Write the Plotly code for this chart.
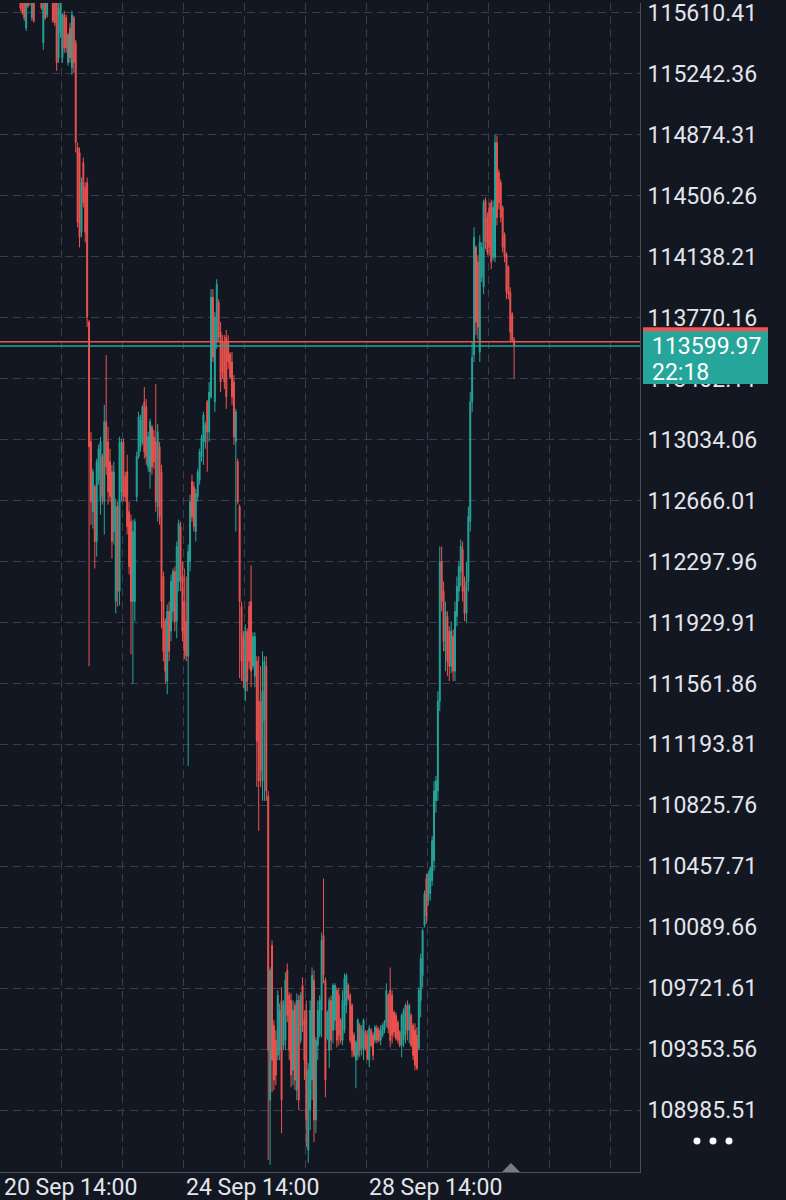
import pandas as pd
import plotly.graph_objects as go

# ---------------- data (hourly BTC candles) ----------------
first_bar = "2025-09-19 12:00"

open_ = [
    115791, 115761, 115731, 115520, 115791, 115779, 115581, 115743, 115719, 115761, 115912, 115761, 115430,
    115731, 115599, 115822, 115701, 115791, 115731, 115671, 115340, 115490, 115340, 115599, 115581, 115310,
    115520, 115280, 115581, 115430, 114798, 114768, 114286, 114707, 114557, 114587, 113744,
    113021, 112599, 112750, 112419, 112792, 112660, 112931, 112660, 113142, 113021, 112901, 112840, 112479,
    112057, 112630, 112118, 112720, 113021, 112810, 112840, 112599, 112539, 112057, 112057, 112690, 112931,
    112991, 113021, 113262, 113232, 112870, 112840, 113111, 113051, 113021, 112630, 112991, 112840, 112208, 111937,
    111576, 111997, 111877, 111997, 112238, 111937, 112178, 112509, 112208, 112057, 111937, 111726, 112298,
    112780, 112750, 112479, 112690, 112792, 112931, 113021, 113021, 113262, 113081, 113292, 113894, 113262,
    113623, 113864, 113683, 113623, 113623, 113653, 113623, 113551, 113503, 113382, 113021, 112901, 112630,
    112027, 111846, 111515, 111877, 112027, 112057, 111666, 111606, 111696, 111455, 111455, 110973, 111335, 111666,
    110883, 109046, 109980, 109498, 109407, 109317, 109347, 109648, 109377, 109407, 109829, 109679, 109648,
    109227, 109618, 109106, 109648, 109407, 109739, 109528, 109588, 108745, 108986, 109167, 109769, 108926,
    109377, 109438, 109588, 110040, 109769, 109419, 109347, 109648, 109468, 109528, 109709, 109679, 109528,
    109407, 109468, 109618, 109739,
    109679, 109618, 109438, 109287, 109317, 109498, 109359, 109347, 109456, 109438, 109287, 109468, 109438,
    109407, 109480, 109468, 109407, 109438, 109468, 109516, 109679, 109709, 109679, 109576, 109558, 109516,
    109456, 109377, 109407, 109438, 109618, 109468, 109558, 109498, 109468, 109438, 109359, 109648, 109799,
    110100, 110383, 110251,
    110293, 110371, 110492, 110853, 110913, 111455, 112298, 112118, 111756, 111967, 111877, 111666, 111846,
    111636, 111967, 112118, 112238, 112371, 112148, 111985, 112178, 112539, 113262, 113545, 114195, 114105,
    113563, 114015, 113955, 114478, 114376, 114436, 114466, 114135, 114135, 114828, 114647, 114587, 114436,
    114273, 114153, 114075, 113924, 113792, 113635,
]

high = [
    115852, 115822, 115761, 115731, 115852, 115822, 115791, 115761, 115912, 115972, 115942, 115791, 115731,
    115761, 115791, 115852, 115882, 115822, 115761, 115701, 115671, 115701, 115611, 115623, 115599, 115490,
    115551, 115623, 115593, 115448, 114828, 114798, 114617, 114737, 114587, 114617, 113756,
    113081, 112858, 112762, 112919, 113003, 113051, 112949, 113244, 113545, 113111, 112979, 112882, 112901,
    112678, 112660, 113051, 113039, 113039, 112840, 112943, 112660, 112581, 112551, 112557, 112961, 113202,
    113184, 113244, 113352, 113280, 113081, 113160, 113123, 113093, 113370, 113129, 113021, 112882, 112238, 111955,
    112039, 112057, 112220, 112256, 112268, 112419, 112551, 112539, 112298, 112256, 112208, 112401, 112702,
    112822, 112780, 112738, 112858, 112979, 113063, 113202, 113142, 113274, 113382, 113943, 113943, 113804,
    114003, 113882, 113744, 113665, 113665, 113696, 113665, 113563, 113563, 113424, 113220, 112919, 112642,
    112057, 111877, 111919, 111895, 112057, 112274, 111871, 111871, 111726, 111726, 111666, 111756, 111726, 111726,
    110913, 109847, 110010, 109528, 109468, 109709, 109630, 109727, 109648, 109817, 109871, 109697, 109691,
    109648, 109636, 109691, 109679, 109697, 109787, 109588, 109648, 109269, 109648, 109847, 109829, 109425,
    109648, 109679, 110058, 110383, 109787, 109588, 109666, 109679, 109751, 109751, 109727, 109721, 109540,
    109709, 109811, 109811, 109751,
    109691, 109630, 109456, 109407, 109540, 109510, 109498, 109540, 109468, 109468, 109498, 109480, 109456,
    109498, 109498, 109486, 109498, 109510, 109528, 109751, 109691, 109847, 109709, 109588, 109576, 109528,
    109468, 109570, 109600, 109630, 109648, 109630, 109570, 109510, 109510, 109486, 109727, 109931, 110082,
    110311, 110413, 110431,
    110455, 110642, 110973, 111003, 111515, 112389, 112389, 112178, 112057, 111997, 111907, 111937, 111889,
    112057, 112208, 112298, 112431, 112419, 112208, 112298, 112630, 113322, 113623, 114316, 114207, 114147,
    114268, 114226, 114484, 114496, 114406, 114466, 114484, 114478, 114876, 114870, 114665, 114605, 114448,
    114286, 114165, 114087, 113954, 113804, 113653,
]

low = [
    115623, 115599, 115563, 115502, 115641, 115653, 115563, 115551, 115701, 115731, 115701, 115629, 115388,
    115569, 115581, 115689, 115683, 115551, 115532, 115261, 115310, 115460, 115310, 115370, 115370, 115292,
    115310, 115237, 115249, 114768, 114316, 114195, 114256, 114436, 114226, 113714, 111666,
    112521, 112497, 112256, 112328, 112762, 112581, 112642, 112461, 112822, 112642, 112660, 112316, 112401,
    111985, 112027, 112033, 112660, 112660, 112660, 112461, 112220, 111738, 111558, 111937, 112660, 112919,
    112961, 113003, 112919, 112882, 112840, 112738, 112822, 112858, 112599, 112539, 112521, 111895, 111696, 111558,
    111497, 111696, 111817, 111937, 111877, 111835, 112118, 112118, 111817, 111708, 111696, 111064, 112238,
    112539, 112479, 112419, 112660, 112762, 112901, 112882, 112979, 112840, 113021, 113280, 113503, 113202,
    113581, 113623, 113322, 113400, 113340, 113220, 113461, 113400, 113244, 113003, 112479, 112642, 111594,
    111576, 111533, 111455, 111515, 111648, 111539, 111648, 111539, 110937, 110672, 110937, 110853, 110853, 110853,
    108685, 108655, 109094, 109106, 109136, 109287, 109287, 108847, 109347, 109347, 109516, 109287, 109124,
    109136, 109106, 109046, 108986, 109389, 109456, 109167, 108763, 108667, 108865, 109046, 108793, 108847,
    109287, 109425, 109425, 109751, 109064, 109407, 109239, 109347, 109389, 109468, 109365, 109377, 109389,
    109377, 109450, 109570, 109648,
    109389, 109305, 109305, 109118, 109287, 109305, 109317, 109287, 109347, 109287, 109245, 109365, 109287,
    109389, 109389, 109395, 109377, 109425, 109450, 109486, 109450, 109365, 109389, 109425, 109407, 109389,
    109365, 109305, 109365, 109389, 109407, 109389, 109365, 109287, 109227, 109227, 109347, 109546, 109727,
    110088, 110112, 110221,
    110251, 110341, 110431, 110781, 110853, 111395, 111997, 111756, 111636, 111606, 111576, 111624, 111576,
    111576, 111907, 112057, 112148, 112057, 111937, 111925, 112118, 112479, 113202, 113503, 113665, 113641,
    113503, 113985, 113912, 114183, 114147, 114147, 114063, 114117, 114105, 114328, 114424, 114346, 114165,
    114105, 113882, 113882, 113623, 113623, 113400,
]

close = [
    115641, 115611, 115581, 115701, 115653, 115671, 115761, 115563, 115882, 115942, 115719, 115641, 115701,
    115581, 115761, 115701, 115852, 115563, 115551, 115310, 115641, 115671, 115599, 115400, 115400, 115478,
    115340, 115599, 115310, 114828, 114346, 114256, 114587, 114466, 114286, 113774, 112991,
    112660, 112840, 112419, 112901, 112979, 113021, 112690, 113142, 112870, 112720, 112690, 112419, 112840,
    112630, 112118, 113021, 113021, 112690, 112690, 112509, 112268, 112057, 112479, 112539, 112931, 113172,
    113154, 113232, 112961, 112931, 113051, 113142, 112870, 112901, 112660, 113081, 112569, 112057, 111756, 111636,
    111997, 111756, 112178, 112238, 111937, 112389, 112527, 112178, 111877, 111756, 111726, 112358, 112660,
    112569, 112509, 112708, 112840, 112961, 113045, 113184, 113123, 113081, 113322, 113894, 113533, 113774,
    113973, 113653, 113382, 113442, 113382, 113292, 113503, 113412, 113292, 113051, 113202, 112660, 112057,
    111696, 111576, 111877, 111576, 111696, 111636, 111846, 111846, 111214, 110973, 111034, 111515, 111696, 110913,
    109347, 109829, 109287, 109167, 109197, 109679, 109588, 109046, 109618, 109769, 109558, 109347, 109197,
    109588, 109167, 109648, 109046, 109679, 109498, 109287, 108926, 109227, 109588, 109799, 108926, 109407,
    109588, 109648, 110010, 109799, 109167, 109576, 109648, 109407, 109739, 109739, 109407, 109438, 109407,
    109648, 109781, 109799, 109660,
    109407, 109347, 109317, 109395, 109528, 109347, 109468, 109528, 109359, 109299, 109480, 109377, 109317,
    109486, 109407, 109407, 109468, 109498, 109522, 109709, 109480, 109407, 109438, 109456, 109419, 109407,
    109377, 109558, 109588, 109618, 109468, 109618, 109377, 109317, 109257, 109239, 109709, 109901, 110070,
    110293, 110160, 110413,
    110443, 110612, 110913, 110973, 111455, 112298, 112057, 111817, 111997, 111696, 111666, 111877, 111636,
    111997, 112148, 112268, 112389, 112118, 111985, 112178, 112569, 113262, 113533, 114256, 113744, 113714,
    114226, 114195, 114466, 114226, 114165, 114195, 114105, 114436, 114828, 114376, 114466, 114376, 114195,
    114135, 113924, 113912, 113683, 113635, 113599.97,
]

price_labels = [
    "115610.41", "115242.36", "114874.31", "114506.26", "114138.21", "113770.16", "113402.11",
    "113034.06", "112666.01", "112297.96", "111929.91", "111561.86", "111193.81", "110825.76",
    "110457.71", "110089.66", "109721.61", "109353.56", "108985.51",
]
date_labels = ["20 Sep 14:00", "24 Sep 14:00", "28 Sep 14:00"]
date_label_times = ["2025-09-20 14:00", "2025-09-24 14:00", "2025-09-28 14:00"]

last_price = 113599.97
last_price_text = "113599.97"
countdown = "22:18"
red_line_price = 113625

# ---------------- layout constants ----------------
W, H = 786, 1200
PW, PH = 640, 1172           # plot area in pixels
TEAL = "#26a69a"
RED = "#ef5350"
BG = "#131722"
GRID = "#3a3e4a"
TXT = "#e3e5ec"
FONT = "Roboto"
PX_PER_HOUR = 1.906
ANCHOR_PX = 70
anchor = pd.Timestamp(date_label_times[0])
Y_TOP, Y_BOT = 115670.6, 108612.1


def xtime(px):
    return anchor + pd.Timedelta(hours=(px - ANCHOR_PX) / PX_PER_HOUR)


def pxx(px):
    return px / PW


def pxy(py):
    return 1 - py / PH


times = pd.date_range(first_bar, periods=len(close), freq="h")
grid_times = [anchor + pd.Timedelta(hours=-4.2 + 32 * k) for k in range(-1, 10)]

fig = go.Figure()
fig.add_trace(go.Candlestick(
    x=times, open=open_, high=high, low=low, close=close,
    increasing=dict(line=dict(color=TEAL, width=1), fillcolor=TEAL),
    decreasing=dict(line=dict(color=RED, width=1), fillcolor=RED),
    whiskerwidth=0, hoverinfo="skip", showlegend=False,
))

shapes = [
    # price lines
    dict(type="line", xref="paper", yref="y", x0=0, x1=1, y0=red_line_price, y1=red_line_price,
         line=dict(color=RED, width=1.5), layer="above"),
    dict(type="line", xref="paper", yref="y", x0=0, x1=1, y0=last_price, y1=last_price,
         line=dict(color=TEAL, width=1.5), layer="above"),
    # price tags on the scale
    dict(type="rect", xref="paper", yref="paper", x0=pxx(643), x1=pxx(768), y0=pxy(331), y1=pxy(325),
         fillcolor=RED, line=dict(width=0), layer="above"),
    dict(type="rect", xref="paper", yref="paper", x0=pxx(643), x1=pxx(768), y0=pxy(382), y1=pxy(329),
         fillcolor=TEAL, line=dict(width=0), layer="above"),
    # scroll marker on time axis
    dict(type="path", xref="paper", yref="paper",
         path=f"M {pxx(502)},{pxy(1172)} L {pxx(511)},{pxy(1163)} L {pxx(520)},{pxy(1172)} Z",
         fillcolor="#787b86", line=dict(width=0), layer="above"),
]
for cx in (697, 713, 729):
    shapes.append(dict(type="circle", xref="paper", yref="paper",
                       x0=pxx(cx - 3.5), x1=pxx(cx + 3.5), y0=pxy(1144.5), y1=pxy(1137.5),
                       fillcolor="#ffffff", line=dict(width=0), layer="above"))

annotations = [
    dict(xref="paper", yref="paper", x=pxx(650), y=pxy(344), text=last_price_text, showarrow=False,
         xanchor="left", yanchor="middle", font=dict(family=FONT, size=23, color="#ffffff")),
    dict(xref="paper", yref="paper", x=pxx(650), y=pxy(370), text=countdown, showarrow=False,
         xanchor="left", yanchor="middle", font=dict(family=FONT, size=23, color="#ffffff")),
]
for t, lab in zip(date_label_times, date_labels):
    annotations.append(dict(xref="x", yref="paper", x=pd.Timestamp(t), y=pxy(1188), text=lab,
                            showarrow=False, xanchor="center", yanchor="middle",
                            font=dict(family=FONT, size=23, color=TXT)))

fig.update_layout(
    width=W, height=H,
    margin=dict(l=0, r=W - PW, t=0, b=H - PH, pad=0),
    paper_bgcolor=BG, plot_bgcolor=BG,
    font=dict(family=FONT, color=TXT),
    showlegend=False,
    shapes=shapes, annotations=annotations,
    xaxis=dict(
        type="date", range=[xtime(0), xtime(PW)], rangeslider=dict(visible=False),
        tickmode="array", tickvals=grid_times, showticklabels=False, ticks="",
        showgrid=True, gridcolor=GRID, griddash="8px,5px", gridwidth=1,
        showline=True, linecolor="#4a4e5a", linewidth=1, zeroline=False, fixedrange=True,
    ),
    yaxis=dict(
        side="right", range=[Y_BOT, Y_TOP],
        tickmode="array", tickvals=[float(s) for s in price_labels], ticktext=price_labels,
        ticks="", ticklabelstandoff=2, ticklabeloverflow="allow",
        tickfont=dict(family=FONT, size=23, color=TXT),
        showgrid=True, gridcolor=GRID, griddash="8px,5px", gridwidth=1,
        showline=True, linecolor="#4a4e5a", linewidth=1, zeroline=False, fixedrange=True,
    ),
)

fig.write_html(
    "out.html",
    config={"displayModeBar": False, "staticPlot": True},
    post_script="document.body.style.margin='0';document.body.style.overflow='hidden';",
)
